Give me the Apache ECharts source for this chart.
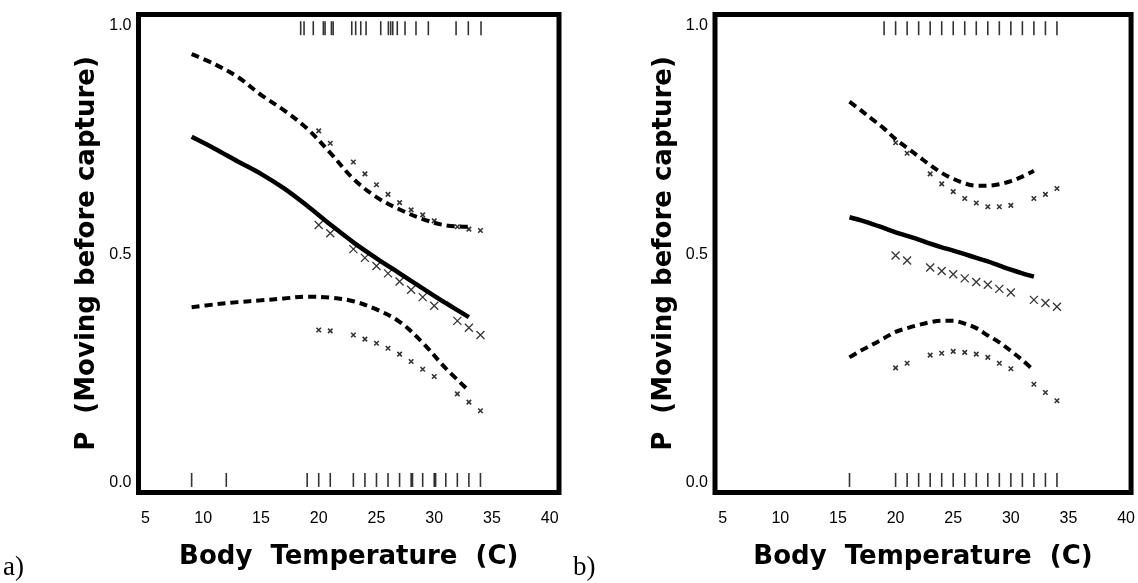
<!DOCTYPE html>
<html><head><meta charset="utf-8">
<script src="https://cdn.jsdelivr.net/npm/echarts@6/dist/echarts.min.js"></script>
<style>html,body{margin:0;padding:0;background:#fff}#c{width:1138px;height:583px}</style>
</head><body><div id="c"></div>
<script>
// ---------- Panel a) ----------
const curveTempsA = [9,11,13,15,17,19,21,23,25,27,29,31,33];
const fitA   = [0.757,0.731,0.703,0.676,0.644,0.606,0.565,0.526,0.491,0.458,0.425,0.393,0.362];
const upperA = [0.938,0.916,0.888,0.849,0.815,0.775,0.722,0.665,0.625,0.598,0.577,0.563,0.560];
const lowerA = [0.384,0.390,0.395,0.399,0.403,0.407,0.405,0.397,0.379,0.352,0.306,0.250,0.201];
const markTempsA = [20,21,23,24,25,26,27,28,29,30,32,33,34];
const obsA   = [0.564,0.546,0.511,0.492,0.474,0.458,0.440,0.422,0.406,0.387,0.354,0.339,0.323];
const obsHiA = [0.770,0.743,0.702,0.676,0.652,0.631,0.613,0.597,0.586,0.573,0.560,0.555,0.552];
const obsLoA = [0.334,0.332,0.323,0.314,0.305,0.294,0.281,0.265,0.248,0.232,0.194,0.176,0.157];
const rugTopA = [18.44,18.73,19.53,20.4,20.55,21.1,21.25,22.86,23.2,23.64,24.1,25.37,26.03,26.23,26.41,26.8,27.47,28.42,29.49,31.89,32.95,34.05];
const rugBottomA = [9,12,19,20,21,23,24,25,26,27,28,28.12,29,30,30.12,31,32,33,34];

// ---------- Panel b) ----------
const curveTempsB = [16,17,18,19,20,21,22,23,24,25,26,27,28,29,30,31,32];
const fitB   = [0.581,0.574,0.566,0.557,0.548,0.540,0.532,0.523,0.515,0.508,0.500,0.492,0.484,0.475,0.466,0.458,0.451];
const upperB = [0.834,0.815,0.795,0.775,0.752,0.733,0.714,0.695,0.678,0.665,0.655,0.650,0.650,0.653,0.660,0.670,0.683];
const lowerB = [0.274,0.289,0.302,0.316,0.330,0.338,0.345,0.351,0.354,0.354,0.348,0.338,0.322,0.307,0.288,0.268,0.245];
const markTempsB = [20,21,23,24,25,26,27,28,29,30,32,33,34];
const obsB   = [0.497,0.486,0.471,0.463,0.456,0.447,0.439,0.433,0.424,0.416,0.400,0.393,0.385];
const obsHiB = [0.744,0.721,0.676,0.654,0.637,0.622,0.612,0.604,0.604,0.607,0.622,0.631,0.644];
const obsLoB = [0.251,0.261,0.279,0.283,0.287,0.285,0.281,0.274,0.261,0.249,0.215,0.197,0.179];
const rugTopB = [19,20,21,22,23,24,25,26,27,28,29,30,31,32,33,34];
const rugBottomB = [16,20,21,22,23,24,25,26,27,28,29,30,31,32,33,34];

// ---------- Axis tick labels / titles ----------
const xTickValues = [5,10,15,20,25,30,35,40];
const yTickValues = [0,0.5,1];
const xTitle = 'Body  Temperature  (C)';
const yTitle = 'P  (Moving before capture)';
const panelLabels = ['a)','b)'];

// ---------- styling constants ----------
const RUG_TOP_Y = 0.995, RUG_BOT_Y = 0.0055;
const XMIN = 4.4, XMAX = 40.8, YMIN = -0.022, YMAX = 1.025;
const CROSS = 'path://M0 0L10 10M10 0L0 10';

const zip = (xs, ys) => xs.map((x,i)=>[x, ys[i]]);
const rug = (xs, y) => xs.map(x=>[x, y]);

function axesFor(i){
  return {
    x: {
      type:'value', gridIndex:i, min:XMIN, max:XMAX,
      axisLine:{show:false}, axisTick:{show:false}, splitLine:{show:false},
      axisLabel:{customValues:xTickValues, margin:18, color:'#000', fontSize:16,
        fontFamily:'"Liberation Sans Narrow","Liberation Sans",Arial,sans-serif'},
      name:xTitle, nameLocation:'middle', nameGap:52,
      nameTextStyle:{color:'#000', fontFamily:'"DejaVu Sans",sans-serif', fontWeight:'bold', fontSize:26}
    },
    y: {
      type:'value', gridIndex:i, min:YMIN, max:YMAX,
      axisLine:{show:false}, axisTick:{show:false}, splitLine:{show:false},
      axisLabel:{customValues:yTickValues, margin:7, color:'#000', fontSize:16,
        fontFamily:'"Liberation Sans",Arial,sans-serif', formatter:v=>Number(v).toFixed(1)},
      name:yTitle, nameLocation:'middle', nameGap:38,
      nameTextStyle:{color:'#000', fontFamily:'"DejaVu Sans",sans-serif', fontWeight:'bold', fontSize:26}
    }
  };
}
const ax0 = axesFor(0), ax1 = axesFor(1);

function panelSeries(i, temps, fit, up, lo, mt, obs, hi, low, rt, rb){
  const base = {xAxisIndex:i, yAxisIndex:i, silent:true, animation:false};
  const line = (data, dashed, w) => Object.assign({}, base, {
    type:'line', data, showSymbol:false, smooth:0.35,
    lineStyle:{color:'#000', width:w, type: dashed ? [8,5] : 'solid', cap:'butt'}
  });
  const marks = (data, size, bw) => Object.assign({}, base, {
    type:'scatter', data, symbol:CROSS, symbolSize:size,
    itemStyle:{color:'rgba(0,0,0,0)', borderColor:'#000', borderWidth:bw}
  });
  const rugS = (data) => Object.assign({}, base, {
    type:'scatter', data, symbol:'rect', symbolSize:[1.6,14], itemStyle:{color:'#000'}
  });
  return [
    line(zip(temps, fit), false, 4.5),
    line(zip(temps, up), true, 4),
    line(zip(temps, lo), true, 4),
    marks(zip(mt, obs), 8, 1.3),
    marks(zip(mt, hi), 4.5, 1.6),
    marks(zip(mt, low), 4.5, 1.6),
    rugS(rug(rt, RUG_TOP_Y)),
    rugS(rug(rb, RUG_BOT_Y))
  ];
}

const chart = echarts.init(document.getElementById('c'), null, {renderer:'canvas'});
chart.setOption({
  animation:false,
  backgroundColor:'#fff',
  grid:[
    {left:138.5, top:14.5, width:420.5, height:478, show:true, borderColor:'#000', borderWidth:5, backgroundColor:'rgba(0,0,0,0)'},
    {left:715, top:14.5, width:417, height:478, show:true, borderColor:'#000', borderWidth:5, backgroundColor:'rgba(0,0,0,0)'}
  ],
  xAxis:[ax0.x, Object.assign({}, ax1.x, {min:4.33, max:40.43})],
  yAxis:[ax0.y, ax1.y],
  series:[].concat(
    panelSeries(0, curveTempsA, fitA, upperA, lowerA, markTempsA, obsA, obsHiA, obsLoA, rugTopA, rugBottomA),
    panelSeries(1, curveTempsB, fitB, upperB, lowerB, markTempsB, obsB, obsHiB, obsLoB, rugTopB, rugBottomB)
  ),
  graphic:[
    {type:'text', left:3, top:554, style:{text:panelLabels[0], font:'27px "Liberation Serif",serif', fill:'#000'}},
    {type:'text', left:573, top:554, style:{text:panelLabels[1], font:'27px "Liberation Serif",serif', fill:'#000'}}
  ]
});
</script>
</body></html>
